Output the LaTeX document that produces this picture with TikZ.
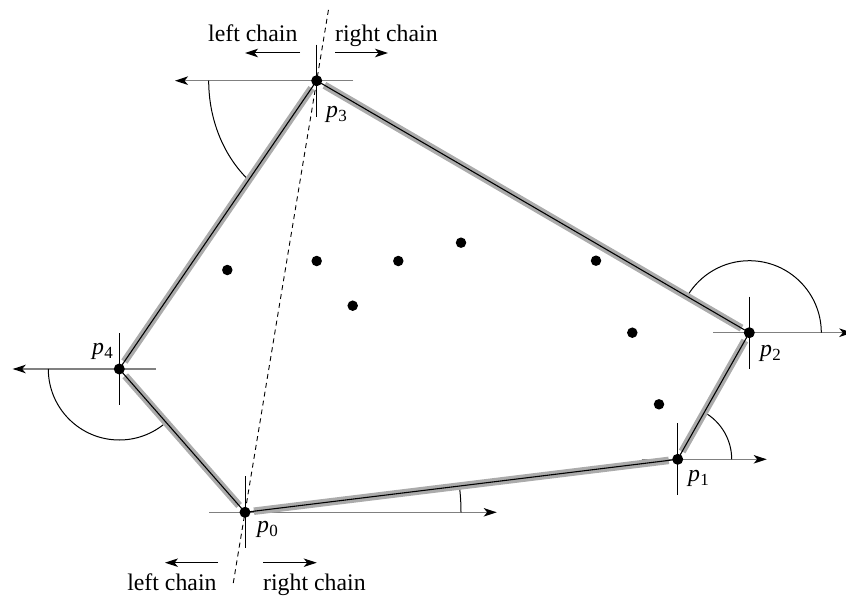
\documentclass[tikz,border=0pt]{standalone}
\usepackage{fontspec}
\setmainfont{Liberation Serif}
\usetikzlibrary{arrows.meta,calc}
\newcommand{\ptlab}[1]{\textit{p}\kern0.3pt\raisebox{-4pt}{\fontsize{17}{17}\selectfont #1}}
\begin{document}
\begin{tikzpicture}[x=1pt,y=1pt,
  hline/.style={draw=black!50, line width=1.3pt},
  vline/.style={draw=black, line width=1pt},
  graybar/.style={draw=black!33, line width=7.5pt, shorten >=9pt, shorten <=9pt},
  blackbar/.style={draw=black, line width=1.1pt, shorten >=5pt, shorten <=5pt},
  anglearc/.style={draw=black, line width=1pt},
  vertex/.style={circle, fill=black, inner sep=0pt, minimum size=11pt},
  ptdot/.style={circle, fill=black, inner sep=0pt, minimum size=10.5pt},
  lbl/.style={font=\fontsize{23.8}{28}\selectfont, inner sep=0pt},
  tip/.style={-{Stealth[length=13pt,width=8.5pt,inset=3.5pt,color=black]}},
  chainarrow/.style={draw=black, line width=1pt, tip},
  splitline/.style={draw=black, line width=0.9pt, dash pattern=on 5pt off 4pt}
]
\useasboundingbox (0,0) rectangle (846,-596);

% hull vertices
\coordinate (p0) at (245,-512.3);
\coordinate (p1) at (677.7,-459.3);
\coordinate (p2) at (749.3,-332.7);
\coordinate (p3) at (316.7,-80.7);
\coordinate (p4) at (119.3,-369);

% dashed split line through p0 and p3
\coordinate (dtop) at ($(p0)!1.168!(p3)$);
\coordinate (dbot) at ($(p0)!-0.164!(p3)$);
\draw[splitline] (dbot) -- (dtop);

% horizontal reference lines
\draw[hline,tip] ([xshift=-36pt]p0) -- ([xshift=251.7pt]p0);
\draw[hline,tip] ([xshift=-36pt]p1) -- ([xshift=89pt]p1);
\draw[hline,tip] ([xshift=-36pt]p2) -- ([xshift=103pt]p2);
\draw[hline,tip] ([xshift=36.6pt]p3) -- ([xshift=-141.7pt]p3);
\draw[hline,tip] ([xshift=36.7pt]p4) -- ([xshift=-106.6pt]p4);

% vertical ticks
\foreach \p in {p0,p1,p2,p3,p4}
  \draw[vline] ([yshift=36pt]\p) -- ([yshift=-36pt]\p);

% angle arcs
\draw[anglearc] ([shift={(0:216)}]p0) arc[start angle=0, end angle=7, radius=216];
\draw[anglearc] ([shift={(0:54)}]p1) arc[start angle=0, end angle=60.5, radius=54];
\draw[anglearc] ([shift={(0:72)}]p2) arc[start angle=0, end angle=149.8, radius=72];
\draw[anglearc] ([shift={(180:108)}]p3) arc[start angle=180, end angle=230.7, x radius=108, y radius=128];
\draw[anglearc] ([shift={(180:71)}]p4) arc[start angle=180, end angle=311.3, radius=71];

% hull edges
\foreach \a/\b in {p0/p1,p1/p2,p2/p3,p3/p4,p4/p0}
  \draw[graybar] (\a) -- (\b);
\foreach \a/\b in {p0/p1,p1/p2,p2/p3,p3/p4,p4/p0}
  \draw[blackbar] (\a) -- (\b);

% vertex dots
\node[vertex] (v0) at (p0) {};
\node[vertex] (v1) at (p1) {};
\node[vertex] (v2) at (p2) {};
\node[vertex] (v3) at (p3) {};
\node[vertex] (v4) at (p4) {};

% interior points
\node[ptdot] (q1) at (227.3,-270) {};
\node[ptdot] (q2) at (316.7,-261) {};
\node[ptdot] (q3) at (398.3,-261) {};
\node[ptdot] (q4) at (461,-242.7) {};
\node[ptdot] (q5) at (352.7,-305.7) {};
\node[ptdot] (q6) at (596,-260.7) {};
\node[ptdot] (q7) at (632.3,-332.7) {};
\node[ptdot] (q8) at (659,-404.3) {};

% vertex labels
\node[lbl, anchor=base west] (l0) at (257,-532) {\ptlab{0}};
\node[lbl, anchor=base west] (l1) at (688,-481) {\ptlab{1}};
\node[lbl, anchor=base west] (l2) at (760,-356) {\ptlab{2}};
\node[lbl, anchor=base west] (l3) at (326,-118) {\ptlab{3}};
\node[lbl, anchor=base west] (l4) at (92,-354) {\ptlab{4}};

% chain labels, top
\node[lbl, anchor=base west] (tl) at (208,-41.5) {left chain};
\node[lbl, anchor=base west] (tr) at (335,-41.5) {right chain};
\coordinate (tla) at (300,-53);
\coordinate (tlb) at (245,-53);
\coordinate (tra) at (335,-53);
\coordinate (trb) at (388,-53);
\draw[chainarrow] (tla) -- (tlb);
\draw[chainarrow] (tra) -- (trb);

% chain labels, bottom
\node[lbl, anchor=base east] (bl) at (216.7,-590) {left chain};
\node[lbl, anchor=base west] (br) at (263,-590) {right chain};
\coordinate (bla) at (218,-562.7);
\coordinate (blb) at (165,-562.7);
\coordinate (bra) at (263,-562.7);
\coordinate (brb) at (316.7,-562.7);
\draw[chainarrow] (bla) -- (blb);
\draw[chainarrow] (bra) -- (brb);
\end{tikzpicture}
\end{document}
